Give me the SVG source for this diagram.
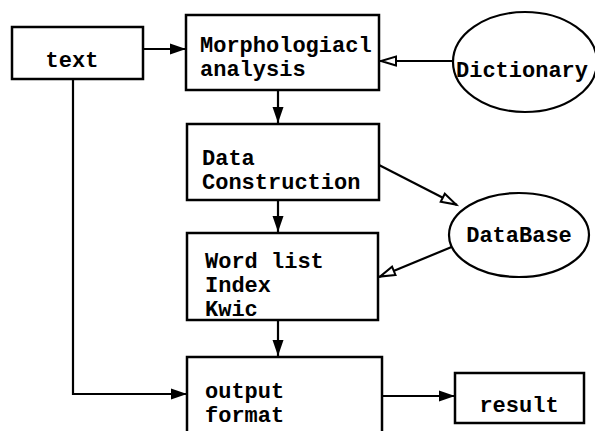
<svg xmlns="http://www.w3.org/2000/svg" width="595" height="431" viewBox="0 0 595 431">
  <style>
    .box { fill: #fff; stroke: #000; stroke-width: 2.5; }
    .ell { fill: #fff; stroke: #000; stroke-width: 2.2; }
    .lbl { font-family: "Liberation Mono", "Courier New", monospace; font-weight: bold; font-size: 22px; fill: #000; }
    .wire { fill: none; stroke: #000; stroke-width: 2.2; }
    .solid { marker-end: url(#headFilled); }
    .open { marker-end: url(#headOpen); }
  </style>
  <defs>
    <marker id="headFilled" markerUnits="userSpaceOnUse" markerWidth="20" markerHeight="14" refX="17" refY="6" orient="auto">
      <path d="M1,0.5 L17,6 L1,11.5 Z" fill="#000"/>
    </marker>
    <marker id="headOpen" markerUnits="userSpaceOnUse" markerWidth="22" markerHeight="14" refX="18" refY="6" orient="auto">
      <path d="M2,1.5 L17,6 L2,10.5 Z" fill="#fff" stroke="#000" stroke-width="2"/>
    </marker>
  </defs>

  <g id="connectors">
    <line class="wire solid" x1="143" y1="49" x2="186" y2="49"/>
    <line class="wire open" x1="453" y1="61" x2="380" y2="61"/>
    <line class="wire solid" x1="278" y1="90" x2="278" y2="123"/>
    <line class="wire open" x1="379" y1="165" x2="457" y2="205"/>
    <line class="wire solid" x1="278" y1="200" x2="278" y2="232"/>
    <line class="wire open" x1="454" y1="246" x2="379" y2="277"/>
    <line class="wire solid" x1="278" y1="320" x2="278" y2="356"/>
    <path class="wire solid" d="M73,79 V394 H187"/>
    <line class="wire solid" x1="382" y1="396" x2="455" y2="396"/>
  </g>

  <g id="text-node">
    <rect class="box" x="12" y="27" width="131" height="52"/>
    <text class="lbl" x="72" y="67" text-anchor="middle">text</text>
  </g>

  <g id="morph">
    <rect class="box" x="186" y="15" width="193" height="75"/>
    <text class="lbl" x="200" y="52">Morphologiacl</text>
    <text class="lbl" x="200" y="76">analysis</text>
  </g>

  <g id="dictionary">
    <ellipse class="ell" cx="525" cy="62" rx="72" ry="50"/>
    <text class="lbl" x="456" y="77">Dictionary</text>
  </g>

  <g id="data-construction">
    <rect class="box" x="187" y="124" width="192" height="76"/>
    <text class="lbl" x="202" y="165">Data</text>
    <text class="lbl" x="202" y="189">Construction</text>
  </g>

  <g id="database">
    <ellipse class="ell" cx="519" cy="235" rx="70" ry="42"/>
    <text class="lbl" x="519" y="242" text-anchor="middle">DataBase</text>
  </g>

  <g id="word-list">
    <rect class="box" x="187" y="233" width="191" height="87"/>
    <text class="lbl" x="205" y="268">Word list</text>
    <text class="lbl" x="205" y="292">Index</text>
    <text class="lbl" x="205" y="316">Kwic</text>
  </g>

  <g id="output-format">
    <rect class="box" x="187" y="357" width="195" height="80"/>
    <text class="lbl" x="205" y="398">output</text>
    <text class="lbl" x="205" y="422">format</text>
  </g>

  <g id="result">
    <rect class="box" x="455" y="373" width="129" height="50"/>
    <text class="lbl" x="519" y="412" text-anchor="middle">result</text>
  </g>
</svg>
